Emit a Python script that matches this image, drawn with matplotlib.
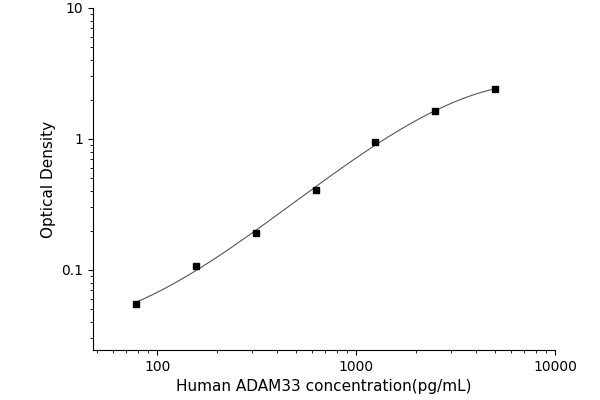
import numpy as np
import matplotlib
matplotlib.use("Agg")
import matplotlib.pyplot as plt

CONC = [78.125, 156.25, 312.5, 625, 1250, 2500, 5000]
OD = [0.055, 0.108, 0.19, 0.41, 0.95, 1.65, 2.4]

fig = plt.figure(figsize=(6, 4), dpi=100)
ax = fig.add_axes([0.155, 0.125, 0.77, 0.855])

# smooth fitted curve: cubic in log-log space
lx, ly = np.log10(CONC), np.log10(OD)
coef = np.polyfit(lx, ly, 3)
xs = np.linspace(lx[0], lx[-1], 200)
ax.plot(10 ** xs, 10 ** np.polyval(coef, xs), color="#555555", lw=0.8)
ax.plot(CONC, OD, "s", color="black", ms=4.5)

ax.set_xscale("log"); ax.set_yscale("log")
ax.set_xlim(47.5, 10000); ax.set_ylim(0.0245, 10)
ax.set_xticks([100, 1000, 10000]); ax.set_xticklabels(["100", "1000", "10000"])
ax.set_yticks([0.1, 1, 10]); ax.set_yticklabels(["0.1", "1", "10"])
for s in ["top", "right"]:
    ax.spines[s].set_visible(False)
ax.tick_params(labelsize=10, direction="out")
ax.set_xlabel("Human ADAM33 concentration(pg/mL)", fontsize=11)
ax.set_ylabel("Optical Density", fontsize=11)
fig.savefig("out.png", dpi=100)
